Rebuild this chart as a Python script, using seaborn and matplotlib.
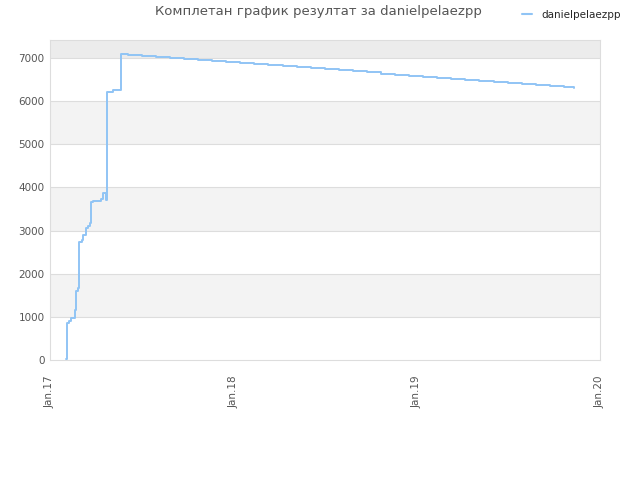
import matplotlib
matplotlib.use("Agg")
import matplotlib.pyplot as plt
import pandas as pd
import seaborn as sns

# ---------------------------------------------------------------- data
dates = [
    "2017-02-01", "2017-02-03", "2017-02-08", "2017-02-12", "2017-02-19",
    "2017-02-21", "2017-02-25", "2017-02-28", "2017-03-06", "2017-03-08",
    "2017-03-13", "2017-03-17", "2017-03-22", "2017-03-23", "2017-03-27",
    "2017-04-13", "2017-04-17", "2017-04-22", "2017-04-24", "2017-05-07",
    "2017-05-22",
    "2017-06-05", "2017-07-03", "2017-07-31", "2017-08-28", "2017-09-25",
    "2017-10-23", "2017-11-20", "2017-12-18", "2018-01-15", "2018-02-12",
    "2018-03-12", "2018-04-09", "2018-05-07", "2018-06-04", "2018-07-02",
    "2018-07-30", "2018-08-27", "2018-09-24", "2018-10-22", "2018-11-19",
    "2018-12-17", "2019-01-14", "2019-02-11", "2019-03-11", "2019-04-08",
    "2019-05-06", "2019-06-03", "2019-07-01", "2019-07-29", "2019-08-26",
    "2019-09-23", "2019-10-21", "2019-11-10",
]
scores = [
    30, 850, 900, 980, 1160,
    1610, 1660, 2745, 2785, 2900,
    3055, 3100, 3170, 3660, 3690,
    3735, 3870, 3710, 6225, 6250,
    7085,
    7070, 7046, 7022, 6999, 6975,
    6951, 6927, 6904, 6880, 6856,
    6833, 6809, 6785, 6761, 6738,
    6714, 6690, 6667, 6643, 6619,
    6595, 6572, 6548, 6524, 6501,
    6477, 6453, 6429, 6406, 6382,
    6358, 6334, 6311,
]
player = "danielpelaezpp"
title = "Комплетан график резултат за danielpelaezpp"
x_ticks = ["2017-01-01", "2018-01-01", "2019-01-01", "2020-01-01"]
x_labels = ["Jan.17", "Jan.18", "Jan.19", "Jan.20"]
y_ticks = [0, 1000, 2000, 3000, 4000, 5000, 6000, 7000]

df = pd.DataFrame({"date": pd.to_datetime(dates), "score": scores, "player": player})

# ---------------------------------------------------------------- figure
sns.set_theme(style="white")
plt.rcParams["font.family"] = ["DejaVu Sans"]

fig = plt.figure(figsize=(6.4, 4.8), dpi=100)
ax = fig.add_axes([50 / 640, 120 / 480, 550 / 640, 320 / 480])

ymax = 7420
# alternating bands
for lo in range(0, 8000, 1000):
    hi = min(lo + 1000, ymax)
    if lo >= 7000:
        color = "#ececec"
    elif (lo // 1000) % 2 == 1:
        color = "#f3f3f3"
    else:
        color = "#ffffff"
    ax.axhspan(lo, hi, color=color, zorder=0, lw=0)
for y in y_ticks[1:]:
    ax.axhline(y, color="#dddddd", lw=0.8, zorder=1)

sns.lineplot(data=df, x="date", y="score", hue="player", ax=ax,
             palette=["#90c4f5"], estimator=None, lw=1.4,
             drawstyle="steps-post", legend=False, zorder=3)

ax.set_xlim(pd.Timestamp(x_ticks[0]), pd.Timestamp(x_ticks[-1]))
ax.set_ylim(0, ymax)
ax.set_xticks(pd.to_datetime(x_ticks))
ax.set_xticklabels(x_labels, rotation=90)
ax.set_yticks(y_ticks)
ax.set_xlabel(""); ax.set_ylabel("")
ax.tick_params(axis="both", labelsize=7.5, colors="#555555", length=0, pad=4)
ax.tick_params(axis="x", pad=11)
for s in ax.spines.values():
    s.set_color("#dddddd"); s.set_linewidth(0.8)

fig.text(0.497, 0.975, title, ha="center", va="center", fontsize=9.5, color="#555555")
handle = plt.Line2D([], [], color="#90c4f5", lw=1.5)
fig.legend([handle], [player], loc="center left", bbox_to_anchor=(0.801, 0.969),
           frameon=False, fontsize=7.5, handlelength=1.0, handletextpad=0.9)

fig.savefig("out.png", dpi=100)
